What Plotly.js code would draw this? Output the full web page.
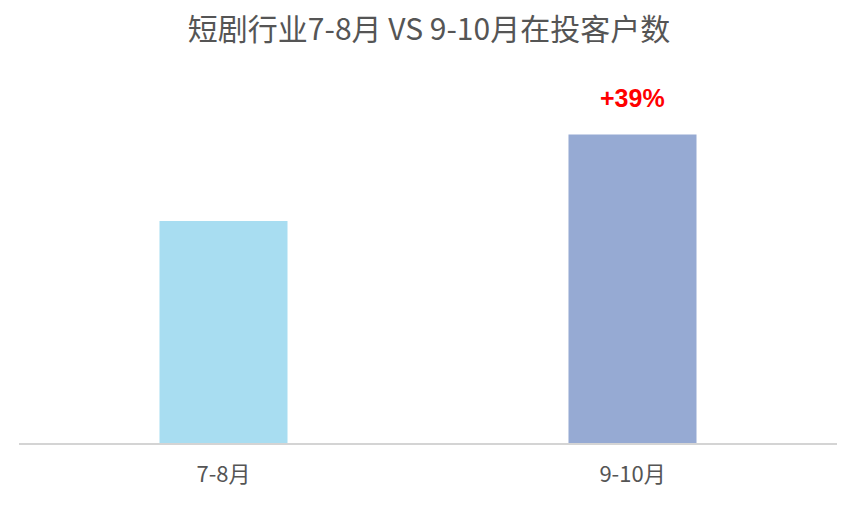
<!DOCTYPE html>
<html>
<head>
<meta charset="utf-8">
<script src="https://cdn.plot.ly/plotly-3.0.1.min.js"></script>
<style>html,body{margin:0;padding:0;background:#fff;}#chart{width:858px;height:510px;}</style>
</head>
<body>
<div id="chart"></div>
<script>
const categories = ["7-8月", "9-10月"];
const values = [100, 139];
const barColors = ["#a8ddf1", "#96aad3"];
const growthLabel = "+39%";
const titleText = "短剧行业7-8月 VS 9-10月在投客户数";

const font = "'Noto Sans CJK SC', 'Noto Sans', sans-serif";

Plotly.newPlot("chart", [{
  type: "bar",
  x: categories,
  y: values,
  marker: {color: barColors},
  hoverinfo: "none"
}], {
  width: 858,
  height: 510,
  margin: {l: 19, r: 21, t: 60, b: 67},
  paper_bgcolor: "#ffffff",
  plot_bgcolor: "#ffffff",
  bargap: 0.687,
  showlegend: false,
  title: {text: titleText, x: 0.5, xanchor: "center", y: 0.943, yanchor: "middle",
          font: {family: font, size: 30, color: "#555555"}},
  xaxis: {
    showline: true, linecolor: "#d4d4d4", linewidth: 2,
    ticks: "", showgrid: false, zeroline: false,
    tickfont: {family: font, size: 22, color: "#555555"},
    ticklabelstandoff: 11
  },
  yaxis: {
    range: [0, 172.5], visible: false, showgrid: false, zeroline: false
  },
  annotations: [{
    x: categories[1], y: values[1], xref: "x", yref: "y",
    text: "<b>" + growthLabel + "</b>", showarrow: false,
    yanchor: "middle", yshift: 36,
    font: {family: "'Liberation Sans', Arial, sans-serif", size: 25, color: "#ff0000"}
  }]
}, {staticPlot: true, displayModeBar: false});
</script>
</body>
</html>
